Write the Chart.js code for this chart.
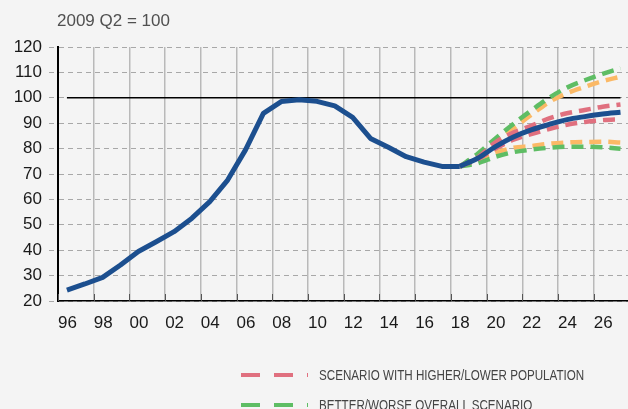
<!DOCTYPE html>
<html>
<head>
<meta charset="utf-8">
<script src="https://cdn.jsdelivr.net/npm/chart.js@4/dist/chart.umd.min.js"></script>
<style>
  html, body { margin:0; padding:0; background:#f4f4f4; overflow:hidden; width:628px; height:409px; }
  #wrap { position:relative; width:628px; height:409px; }
  #chart { position:absolute; left:0; top:0; }
  #unit { position:absolute; left:57px; top:11px; line-height:20px; font-family:"Liberation Sans", Arial, sans-serif; font-size:17px; color:#505050; white-space:nowrap; }
  .leg { position:absolute; left:241px; height:20px; display:flex; align-items:center; }
  .leg svg { display:block; margin-right:11px; }
  .leg span { display:inline-block; font-family:"Liberation Sans", Arial, sans-serif; font-size:15.5px; color:#444; white-space:nowrap; transform:scaleX(0.75); transform-origin:left center; }
</style>
</head>
<body>
<div id="wrap">
  <canvas id="chart" width="628" height="409"></canvas>
  <div id="unit">2009 Q2 = 100</div>
  <div class="leg" style="top:365px">
    <svg width="67" height="6"><line x1="0" y1="3" x2="67" y2="3" stroke="#e0707f" stroke-width="4" stroke-dasharray="19 14"/></svg>
    <span>SCENARIO WITH HIGHER/LOWER POPULATION</span>
  </div>
  <div class="leg" style="top:395px">
    <svg width="67" height="6"><line x1="0" y1="3" x2="67" y2="3" stroke="#5ebd64" stroke-width="4" stroke-dasharray="19 14"/></svg>
    <span>BETTER/WORSE OVERALL SCENARIO</span>
  </div>
</div>
<script>
// ---- data ----
const tickYears  = [1996,1998,2000,2002,2004,2006,2008,2010,2012,2014,2016,2018,2020,2022,2024,2026];
const tickLabels = ['96','98','00','02','04','06','08','10','12','14','16','18','20','22','24','26'];

const histYears  = [1996.5,1997.5,1998.5,1999.5,2000.5,2001.5,2002.5,2003.5,2004.5,2005.5,2006.5,2007.5,
                    2008.5,2009.5,2010.5,2011.5,2012.5,2013.5,2014.5,2015.5,2016.5,2017.5,2018.5];
const histValues = [24.3,26.7,29.3,34.2,39.5,43.3,47.3,52.6,59.1,67.6,79.5,93.9,
                    98.5,99.2,98.6,96.8,92.3,84.0,80.5,76.8,74.7,73.0,73.0];

const fcstYears   = [2018.5,2019.5,2020.5,2021.5,2022.5,2023.5,2024.5,2025.5,2026.5,2027.5];
const baseline    = [73.0,76.2,80.8,84.6,87.4,89.5,91.4,92.6,93.6,94.3];
const popHigher   = [73.0,76.5,82.5,86.3,89.0,91.9,93.9,95.2,96.5,97.4];
const popLower    = [73.0,75.8,80.0,83.5,85.7,87.7,89.4,90.5,91.2,91.5];
const betterCase  = [73.0,78.0,84.0,89.7,95.0,100.0,104.0,106.9,109.4,111.6];
const worseCase   = [73.0,74.2,76.8,78.6,79.6,80.3,80.7,80.7,80.5,79.9];
const orangeHigh  = [73.0,77.2,82.6,88.0,93.3,98.3,101.8,104.3,106.6,108.3];
const orangeLow   = [73.0,75.3,78.3,80.3,81.0,81.9,82.4,82.6,82.7,82.4];

const refYears  = [1996.5, 2027.5];
const refValues = [100, 100];

// ---- styles ----
const FONT = '"Liberation Sans", Arial, sans-serif';
const BLUE = '#1c4f8f', RED = '#e0707f', GREEN = '#5ebd64', ORANGE = '#fbb966';
const DASH = [12, 7];

const pts = (xs, ys) => xs.map((x, i) => ({x, y: ys[i]}));

function dashed(data, color) {
  return { data: pts(fcstYears, data), borderColor: color, borderWidth: 4.5, borderDash: DASH,
           borderCapStyle: 'butt', pointRadius: 0, cubicInterpolationMode: 'monotone', fill: false };
}

const innerTicks = {
  id: 'innerTicks',
  beforeDatasetsDraw(chart) {
    const s = chart.scales.x, ctx = chart.ctx, b = chart.chartArea.bottom;
    ctx.save();
    ctx.strokeStyle = '#555';
    ctx.lineWidth = 1;
    s.ticks.forEach(t => {
      const px = Math.round(s.getPixelForValue(t.value)) + 0.5;
      ctx.beginPath(); ctx.moveTo(px, b - 7); ctx.lineTo(px, b); ctx.stroke();
    });
    ctx.restore();
  }
};

new Chart(document.getElementById('chart'), {
  type: 'line',
  data: {
    datasets: [
      { data: pts(histYears, histValues), borderColor: BLUE, borderWidth: 5, pointRadius: 0,
        borderJoinStyle: 'round', tension: 0, fill: false },
      { data: pts(fcstYears, baseline), borderColor: BLUE, borderWidth: 5, pointRadius: 0,
        cubicInterpolationMode: 'monotone', fill: false },
      dashed(popHigher, RED),
      dashed(popLower, RED),
      dashed(betterCase, GREEN),
      dashed(worseCase, GREEN),
      dashed(orangeHigh, ORANGE),
      dashed(orangeLow, ORANGE),
      { data: pts(refYears, refValues), borderColor: '#000', borderWidth: 1.5, pointRadius: 0, fill: false }
    ]
  },
  options: {
    responsive: false,
    animation: false,
    layout: { padding: { top: 47, left: 0, right: 0, bottom: 0 } },
    plugins: { legend: { display: false }, tooltip: { enabled: false } },
    scales: {
      x: {
        type: 'linear', min: 1996, max: 2027.92,
        afterBuildTicks: s => { s.ticks = tickYears.map(v => ({ value: v })); },
        afterFit: s => { s.height = 108; },
        ticks: { align: 'start', padding: 12, maxRotation: 0, autoSkip: false, color: '#1a1a1a',
                 font: { family: FONT, size: 17 },
                 callback: (v, i) => tickLabels[i] },
        grid: { color: '#b9b9b9', lineWidth: 1.5, drawTicks: false },
        border: { color: '#000', width: 1.5 }
      },
      y: {
        min: 20, max: 120,
        afterFit: s => { s.width = 58; },
        ticks: { stepSize: 10, padding: 7, color: '#1a1a1a', font: { family: FONT, size: 17 } },
        grid: { color: '#a8a8a8', lineWidth: 1, tickLength: 9, tickColor: '#a8a8a8', tickBorderDash: [5, 4] },
        border: { color: '#000', width: 2, dash: [5, 4] }
      }
    }
  },
  plugins: [innerTicks]
});
</script>
</body>
</html>
